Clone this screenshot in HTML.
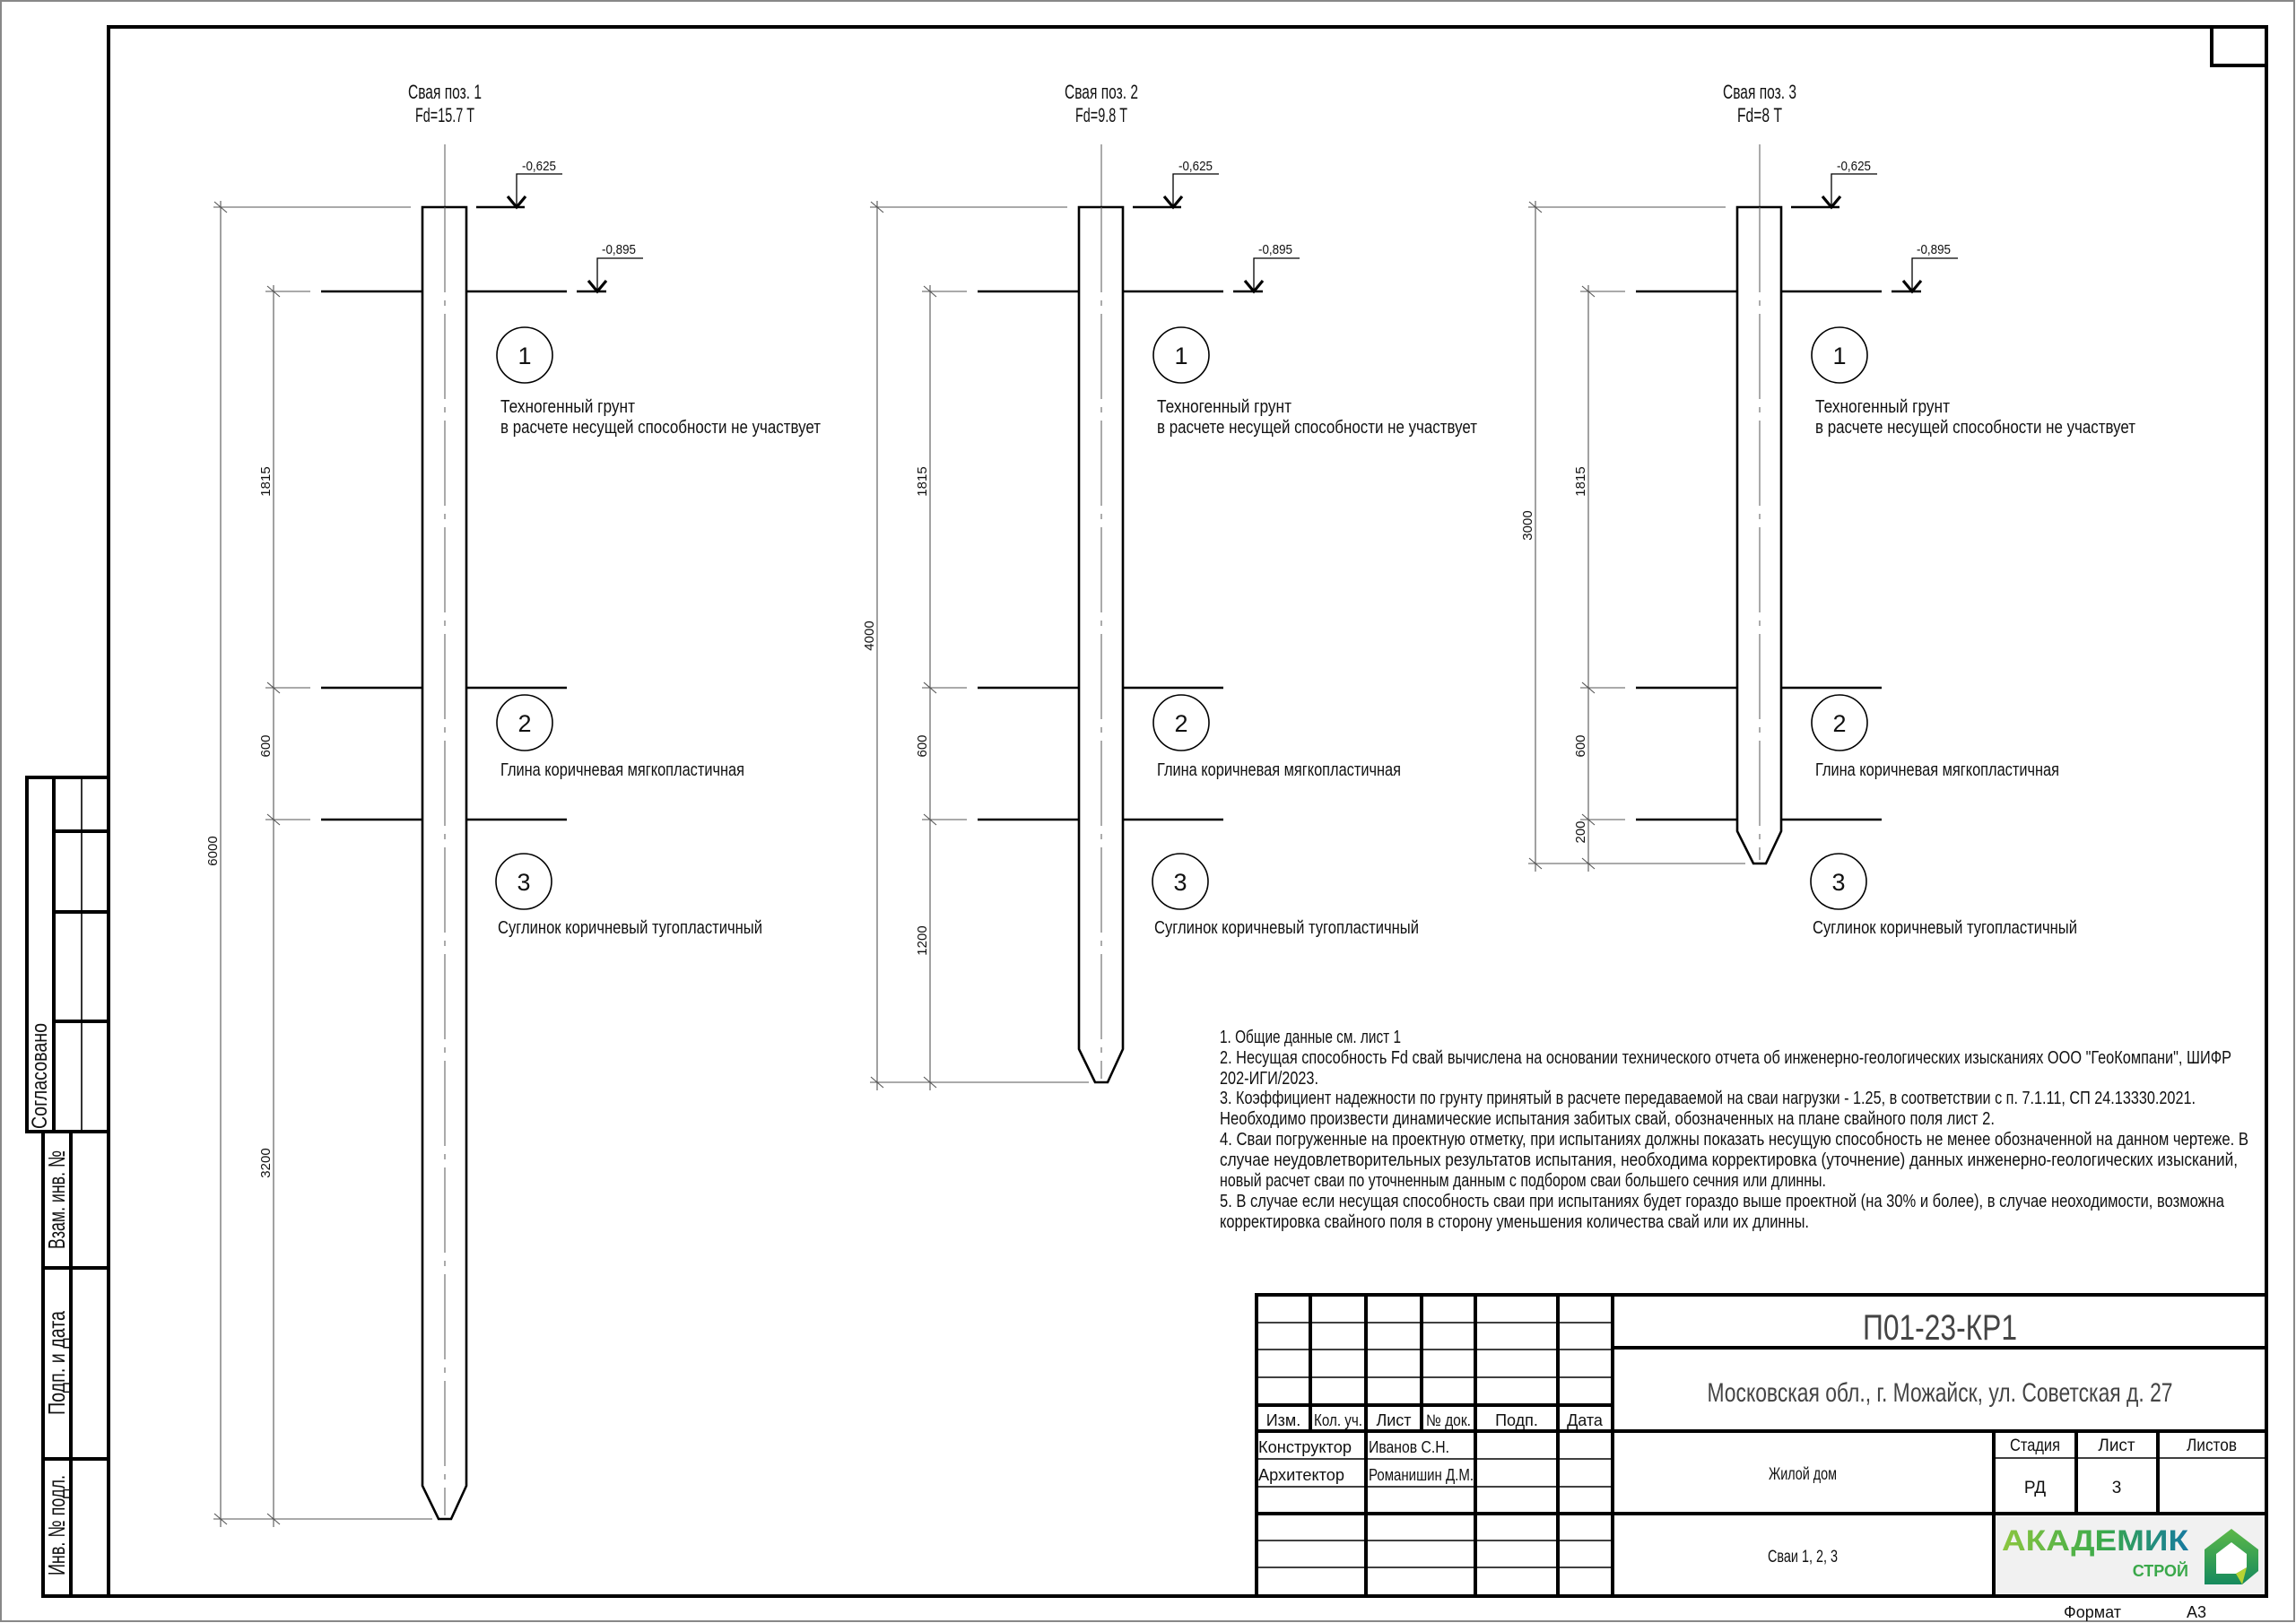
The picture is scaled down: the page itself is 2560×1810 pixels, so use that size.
<!DOCTYPE html>
<html><head><meta charset="utf-8"><style>
html,body{margin:0;padding:0;background:#fff}
svg{display:block}
text{font-family:"Liberation Sans Narrow","Liberation Sans",sans-serif;fill:#111}
.th{stroke:#000;stroke-width:1.3;fill:none}
.dm{stroke:#555;stroke-width:1.1;fill:none}
.tk{stroke:#000;stroke-width:2.6;fill:none}
.fr{stroke:#000;stroke-width:4;fill:none}
.tb{stroke:#000;stroke-width:1.6;fill:none}
.cl{stroke:#666;stroke-width:1.1;fill:none;stroke-dasharray:95 9 6 9}
</style></head><body>
<svg width="2560" height="1810" viewBox="0 0 2560 1810" xmlns="http://www.w3.org/2000/svg">
<rect x="1" y="1" width="2557" height="1807" fill="#fff" stroke="#888" stroke-width="2"/>
<rect x="121" y="30" width="2406" height="1750" class="fr"/>
<rect x="2466" y="30" width="61" height="43" class="fr"/>

<rect x="30" y="867" width="91" height="395" class="fr"/>
<line x1="60" y1="867" x2="60" y2="1262" class="fr"/>
<line x1="91" y1="867" x2="91" y2="1262" class="tb"/>
<line x1="60" y1="927" x2="121" y2="927" class="fr"/>
<line x1="60" y1="1017" x2="121" y2="1017" class="fr"/>
<line x1="60" y1="1139" x2="121" y2="1139" class="fr"/>
<text transform="translate(52,1200) rotate(-90)" font-size="24" text-anchor="middle" textLength="118" lengthAdjust="spacingAndGlyphs">Согласовано</text>
<rect x="48" y="1262" width="73" height="518" class="fr"/>
<line x1="79" y1="1262" x2="79" y2="1780" class="fr"/>
<line x1="48" y1="1414" x2="121" y2="1414" class="fr"/>
<line x1="48" y1="1627" x2="121" y2="1627" class="fr"/>
<text transform="translate(72,1338) rotate(-90)" font-size="26" text-anchor="middle" textLength="110" lengthAdjust="spacingAndGlyphs">Взам. инв. №</text>
<text transform="translate(72,1520) rotate(-90)" font-size="26" text-anchor="middle" textLength="116" lengthAdjust="spacingAndGlyphs">Подп. и дата</text>
<text transform="translate(72,1701) rotate(-90)" font-size="26" text-anchor="middle" textLength="112" lengthAdjust="spacingAndGlyphs">Инв. № подл.</text>

<defs>
<g id="common">
  <line x1="496" y1="161" x2="496" y2="231" class="cl" stroke-dasharray="none"/>
  <line x1="238" y1="231" x2="458" y2="231" class="dm"/>
  <line x1="531" y1="231" x2="585" y2="231" class="tk"/>
  <polyline points="576,231 576,194 627,194" class="th"/>
  <polyline points="566,219 576,231 586,219" stroke="#000" stroke-width="3.2" fill="none"/>
  <text x="601" y="190" font-size="15" text-anchor="middle" textLength="38" lengthAdjust="spacingAndGlyphs">-0,625</text>
  <line x1="643" y1="325" x2="676" y2="325" class="tk"/>
  <polyline points="666,325 666,288 717,288" class="th"/>
  <polyline points="656,313 666,325 676,313" stroke="#000" stroke-width="3.2" fill="none"/>
  <text x="690" y="283" font-size="15" text-anchor="middle" textLength="38" lengthAdjust="spacingAndGlyphs">-0,895</text>
  <line x1="296" y1="325" x2="346" y2="325" class="dm"/>
  <line x1="358" y1="325" x2="471" y2="325" class="tk"/>
  <line x1="520" y1="325" x2="632" y2="325" class="tk"/>
  <line x1="296" y1="767" x2="346" y2="767" class="dm"/>
  <line x1="358" y1="767" x2="471" y2="767" class="tk"/>
  <line x1="520" y1="767" x2="632" y2="767" class="tk"/>
  <line x1="296" y1="914" x2="346" y2="914" class="dm"/>
  <line x1="358" y1="914" x2="471" y2="914" class="tk"/>
  <line x1="520" y1="914" x2="632" y2="914" class="tk"/>
  <circle cx="585" cy="396" r="31" class="tb"/>
  <text x="585" y="406" font-size="27" text-anchor="middle">1</text>
  <circle cx="585" cy="806" r="31" class="tb"/>
  <text x="585" y="816" font-size="27" text-anchor="middle">2</text>
  <circle cx="584" cy="983" r="31" class="tb"/>
  <text x="584" y="993" font-size="27" text-anchor="middle">3</text>
  <text x="558" y="460" font-size="20" textLength="150" lengthAdjust="spacingAndGlyphs">Техногенный грунт</text>
  <text x="558" y="483" font-size="20" textLength="357" lengthAdjust="spacingAndGlyphs">в расчете несущей способности не участвует</text>
  <text x="558" y="865" font-size="20" textLength="272" lengthAdjust="spacingAndGlyphs">Глина коричневая мягкопластичная</text>
  <text x="555" y="1041" font-size="20" textLength="295" lengthAdjust="spacingAndGlyphs">Суглинок коричневый тугопластичный</text>
  <text x="305" y="551" font-size="15" text-anchor="middle" transform="rotate(-90 296 546)">1815</text>
  <text x="305" y="846" font-size="15" text-anchor="middle" transform="rotate(-90 296 841)">600</text>
</g>
</defs>

<use href="#common"/>
<text x="496" y="110" font-size="22" text-anchor="middle" textLength="82" lengthAdjust="spacingAndGlyphs">Свая поз. 1</text>
<text x="496" y="136" font-size="22" text-anchor="middle" textLength="66" lengthAdjust="spacingAndGlyphs">Fd=15.7 Т</text>
<path d="M471,231 H520 V1657 L503,1694 H489 L471,1657 Z" stroke="#000" stroke-width="2.6" fill="none"/>
<line x1="496" y1="231" x2="496" y2="1690" class="cl"/>
<line x1="246" y1="224" x2="246" y2="1703" class="dm"/>
<line x1="305" y1="318" x2="305" y2="1703" class="dm"/>
<line x1="238" y1="1694" x2="482" y2="1694" class="dm"/>
<g class="dm"><line x1="239" y1="225" x2="253" y2="237"/><line x1="239" y1="1688" x2="253" y2="1700"/>
<line x1="298" y1="319" x2="312" y2="331"/><line x1="298" y1="761" x2="312" y2="773"/><line x1="298" y1="908" x2="312" y2="920"/><line x1="298" y1="1688" x2="312" y2="1700"/></g>
<text x="246" y="963" font-size="15" text-anchor="middle" transform="rotate(-90 237 958)">6000</text>
<text x="305" y="1311" font-size="15" text-anchor="middle" transform="rotate(-90 296 1306)">3200</text>

<use href="#common" transform="translate(732,0)"/>
<text x="1228" y="110" font-size="22" text-anchor="middle" textLength="82" lengthAdjust="spacingAndGlyphs">Свая поз. 2</text>
<text x="1228" y="136" font-size="22" text-anchor="middle" textLength="58" lengthAdjust="spacingAndGlyphs">Fd=9.8 Т</text>
<path d="M1203,231 H1252 V1170 L1235,1207 H1221 L1203,1170 Z" stroke="#000" stroke-width="2.6" fill="none"/>
<line x1="1228" y1="231" x2="1228" y2="1203" class="cl"/>
<line x1="978" y1="224" x2="978" y2="1216" class="dm"/>
<line x1="1037" y1="318" x2="1037" y2="1216" class="dm"/>
<line x1="970" y1="1207" x2="1214" y2="1207" class="dm"/>
<g class="dm"><line x1="971" y1="225" x2="985" y2="237"/><line x1="971" y1="1201" x2="985" y2="1213"/>
<line x1="1030" y1="319" x2="1044" y2="331"/><line x1="1030" y1="761" x2="1044" y2="773"/><line x1="1030" y1="908" x2="1044" y2="920"/><line x1="1030" y1="1201" x2="1044" y2="1213"/></g>
<text x="978" y="723" font-size="15" text-anchor="middle" transform="rotate(-90 969 718)">4000</text>
<text x="1037" y="1063" font-size="15" text-anchor="middle" transform="rotate(-90 1028 1058)">1200</text>

<use href="#common" transform="translate(1466,0)"/>
<text x="1962" y="110" font-size="22" text-anchor="middle" textLength="82" lengthAdjust="spacingAndGlyphs">Свая поз. 3</text>
<text x="1962" y="136" font-size="22" text-anchor="middle" textLength="50" lengthAdjust="spacingAndGlyphs">Fd=8 Т</text>
<path d="M1937,231 H1986 V927 L1969,963 H1955 L1937,927 Z" stroke="#000" stroke-width="2.6" fill="none"/>
<line x1="1962" y1="231" x2="1962" y2="959" class="cl"/>
<line x1="1712" y1="224" x2="1712" y2="972" class="dm"/>
<line x1="1771" y1="318" x2="1771" y2="972" class="dm"/>
<line x1="1704" y1="963" x2="1946" y2="963" class="dm"/>
<g class="dm"><line x1="1705" y1="225" x2="1719" y2="237"/><line x1="1705" y1="957" x2="1719" y2="969"/>
<line x1="1764" y1="319" x2="1778" y2="331"/><line x1="1764" y1="761" x2="1778" y2="773"/><line x1="1764" y1="908" x2="1778" y2="920"/><line x1="1764" y1="957" x2="1778" y2="969"/></g>
<text x="1712" y="600" font-size="15" text-anchor="middle" transform="rotate(-90 1703 595)">3000</text>
<text x="1771" y="942" font-size="15" text-anchor="middle" transform="rotate(-90 1762 937)">200</text>

<g font-size="20">
<text x="1360" y="1163" textLength="202" lengthAdjust="spacingAndGlyphs">1. Общие данные см. лист 1</text>
<text x="1360" y="1186" textLength="1128" lengthAdjust="spacingAndGlyphs">2. Несущая способность Fd свай вычислена на основании технического отчета об инженерно-геологических изысканиях ООО "ГеоКомпани", ШИФР</text>
<text x="1360" y="1209" textLength="110" lengthAdjust="spacingAndGlyphs">202-ИГИ/2023.</text>
<text x="1360" y="1231" textLength="1088" lengthAdjust="spacingAndGlyphs">3. Коэффициент надежности по грунту принятый в расчете передаваемой на сваи нагрузки - 1.25, в соответствии с п. 7.1.11, СП 24.13330.2021.</text>
<text x="1360" y="1254" textLength="864" lengthAdjust="spacingAndGlyphs">Необходимо произвести динамические испытания забитых свай, обозначенных на плане свайного поля лист 2.</text>
<text x="1360" y="1277" textLength="1147" lengthAdjust="spacingAndGlyphs">4. Сваи погруженные на проектную отметку, при испытаниях должны показать несущую способность не менее обозначенной на данном чертеже. В</text>
<text x="1360" y="1300" textLength="1135" lengthAdjust="spacingAndGlyphs">случае неудовлетворительных результатов испытания, необходима корректировка (уточнение) данных  инженерно-геологических изысканий,</text>
<text x="1360" y="1323" textLength="676" lengthAdjust="spacingAndGlyphs">новый расчет сваи по уточненным данным с подбором сваи большего сечния или длинны.</text>
<text x="1360" y="1346" textLength="1120" lengthAdjust="spacingAndGlyphs">5. В случае если несущая способность сваи при испытаниях будет гораздо выше проектной (на 30% и более), в случае неоходимости, возможна</text>
<text x="1360" y="1369" textLength="657" lengthAdjust="spacingAndGlyphs">корректировка свайного поля в сторону уменьшения количества свай или их длинны.</text>
</g>

<rect x="2223" y="1688" width="304" height="91" fill="#f1f1f1"/>
<rect x="1401" y="1444" width="1126" height="336" class="fr"/>
<g class="tb">
<line x1="1401" y1="1475" x2="1798" y2="1475"/>
<line x1="1401" y1="1505" x2="1798" y2="1505"/>
<line x1="1401" y1="1536" x2="1798" y2="1536"/>
<line x1="1401" y1="1627" x2="1798" y2="1627"/>
<line x1="1401" y1="1658" x2="1798" y2="1658"/>
<line x1="1401" y1="1718" x2="1798" y2="1718"/>
<line x1="1401" y1="1748" x2="1798" y2="1748"/>
<line x1="2223" y1="1626" x2="2527" y2="1626"/>
</g>
<g class="fr" stroke-width="3.5">
<line x1="1401" y1="1567" x2="1798" y2="1567"/>
<line x1="1401" y1="1596" x2="2527" y2="1596"/>
<line x1="1401" y1="1688" x2="2527" y2="1688"/>
<line x1="1798" y1="1503" x2="2527" y2="1503"/>
<line x1="1461" y1="1444" x2="1461" y2="1596"/>
<line x1="1523" y1="1444" x2="1523" y2="1780"/>
<line x1="1585" y1="1444" x2="1585" y2="1596"/>
<line x1="1645" y1="1444" x2="1645" y2="1780"/>
<line x1="1737" y1="1444" x2="1737" y2="1780"/>
<line x1="1798" y1="1444" x2="1798" y2="1780"/>
<line x1="2223" y1="1596" x2="2223" y2="1780"/>
<line x1="2315" y1="1596" x2="2315" y2="1688"/>
<line x1="2406" y1="1596" x2="2406" y2="1688"/>
</g>
<g font-size="18" text-anchor="middle">
<text x="1431" y="1590">Изм.</text>
<text x="1492" y="1590" textLength="54" lengthAdjust="spacingAndGlyphs">Кол. уч.</text>
<text x="1554" y="1590">Лист</text>
<text x="1615" y="1590" textLength="50" lengthAdjust="spacingAndGlyphs">№ док.</text>
<text x="1691" y="1590">Подп.</text>
<text x="1767" y="1590">Дата</text>
</g>
<g font-size="18">
<text x="1403" y="1620" textLength="104" lengthAdjust="spacingAndGlyphs">Конструктор</text>
<text x="1526" y="1620" textLength="90" lengthAdjust="spacingAndGlyphs">Иванов С.Н.</text>
<text x="1403" y="1651" textLength="96" lengthAdjust="spacingAndGlyphs">Архитектор</text>
<text x="1526" y="1651" textLength="117" lengthAdjust="spacingAndGlyphs">Романишин Д.М.</text>
</g>
<text x="2163" y="1494" font-size="40" text-anchor="middle" fill="#444" style="fill:#444" textLength="172" lengthAdjust="spacingAndGlyphs">П01-23-КР1</text>
<text x="2163" y="1563" font-size="30" text-anchor="middle" fill="#444" style="fill:#444" textLength="519" lengthAdjust="spacingAndGlyphs">Московская обл., г. Можайск, ул. Советская д. 27</text>
<text x="2010" y="1650" font-size="19" text-anchor="middle" textLength="76" lengthAdjust="spacingAndGlyphs">Жилой дом</text>
<text x="2010" y="1742" font-size="19" text-anchor="middle" textLength="78" lengthAdjust="spacingAndGlyphs">Сваи 1, 2, 3</text>
<g font-size="19" text-anchor="middle">
<text x="2269" y="1618" textLength="56" lengthAdjust="spacingAndGlyphs">Стадия</text>
<text x="2360" y="1618">Лист</text>
<text x="2466" y="1618" textLength="56" lengthAdjust="spacingAndGlyphs">Листов</text>
<text x="2269" y="1665">РД</text>
<text x="2360" y="1665">3</text>
</g>
<text x="2333" y="1804" font-size="18" text-anchor="middle">Формат</text>
<text x="2449" y="1804" font-size="18" text-anchor="middle">А3</text>
<defs><linearGradient id="lg" x1="0" x2="1" y1="0" y2="0">
<stop offset="0" stop-color="#8cc63f"/><stop offset="0.55" stop-color="#39a94b"/><stop offset="1" stop-color="#1679a0"/></linearGradient>
<linearGradient id="hg" x1="0" x2="0" y1="0" y2="1"><stop offset="0" stop-color="#5cb848"/><stop offset="1" stop-color="#168a5e"/></linearGradient></defs>
<text x="2232" y="1729" font-family="Liberation Sans" font-weight="bold" font-size="32" style="fill:url(#lg)" textLength="208" lengthAdjust="spacingAndGlyphs">АКАДЕМИК</text>
<text x="2440" y="1758" font-family="Liberation Sans" font-weight="bold" font-size="18" text-anchor="end" style="fill:#3aa84a">СТРОЙ</text>
<path d="M2488,1705 L2518,1728 L2518,1752 L2500,1767 L2458,1767 L2458,1728 Z" fill="url(#hg)"/>
<path d="M2488,1720 L2505,1733 L2505,1748 L2493,1755 L2471,1755 L2471,1733 Z" fill="#fff"/>
<path d="M2493,1755 L2505,1748 L2500,1767 Z" fill="#b5d334"/>
</svg>
</body></html>
